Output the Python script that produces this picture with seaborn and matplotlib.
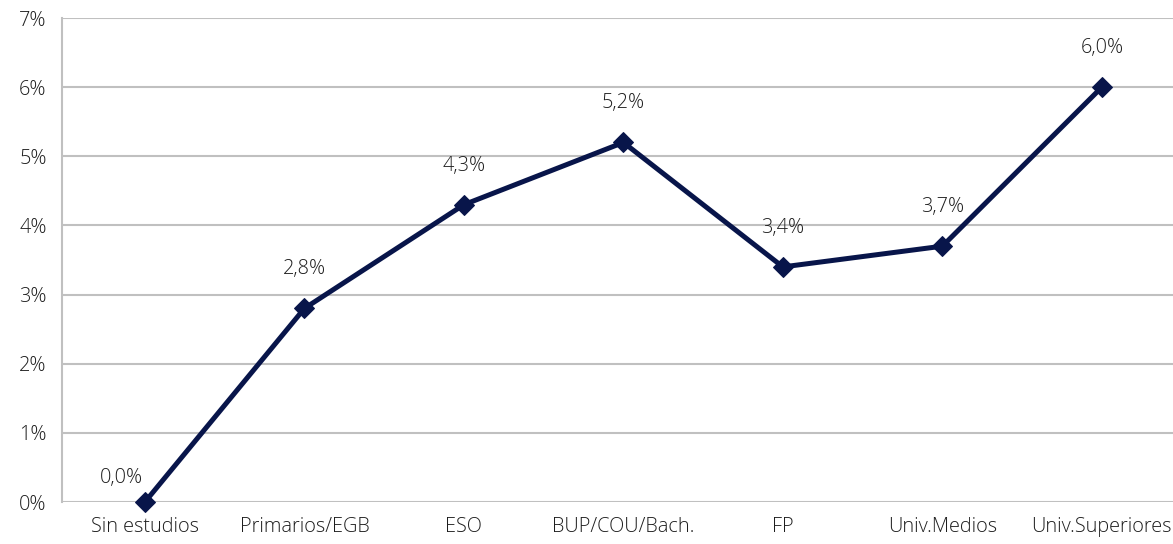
import matplotlib
matplotlib.use("Agg")
import matplotlib.pyplot as plt
import seaborn as sns
import pandas as pd
from matplotlib.ticker import FuncFormatter

categories = ["Sin estudios", "Primarios/EGB", "ESO", "BUP/COU/Bach.", "FP", "Univ.Medios", "Univ.Superiores"]
values = [0.0, 2.8, 4.3, 5.2, 3.4, 3.7, 6.0]

sns.set_theme(style="white")
plt.rcParams['font.family'] = ['Open Sans', 'DejaVu Sans']
plt.rcParams['font.weight'] = 'light'

df = pd.DataFrame({"cat": categories, "val": values})
fig = plt.figure(figsize=(11.73, 5.44), dpi=100)
ax = fig.add_axes([62/1173, 1-502/544, 1-62/1173, (502-18)/544])

navy = "#08154a"
sns.lineplot(data=df, x="cat", y="val", ax=ax, color=navy, linewidth=3.6,
             marker="D", markersize=10, markeredgecolor=navy, sort=False, clip_on=False)

ax.set_xlim(-0.52, 6.446)
ax.set_ylim(0, 7)
ax.set_yticks(range(0, 8))
ax.yaxis.set_major_formatter(FuncFormatter(lambda v, p: f"{int(v)}%"))
ax.grid(axis="y", color="#c0c0c0", linewidth=1.5)
ax.set_axisbelow(True)
for s in ["top", "right", "bottom"]:
    ax.spines[s].set_visible(False)
ax.spines["left"].set_color("#c0c0c0")
ax.spines["left"].set_linewidth(1.5)
ax.set_xlabel("")
ax.set_ylabel("")
ax.tick_params(axis="both", length=0, labelsize=14.3, labelcolor="#1e1e1e")
ax.tick_params(axis="x", pad=11)
ax.tick_params(axis="y", pad=11)

for i, v in enumerate(values):
    off = (-17, 10) if v == 0 else (0, 21)
    ax.annotate(f"{v:.1f}%".replace(".", ","), (i, v), xytext=off, textcoords="offset points",
                ha="center", va="bottom", fontsize=14.3, color="#1e1e1e", fontweight="light")

fig.savefig("out.png", dpi=100)
